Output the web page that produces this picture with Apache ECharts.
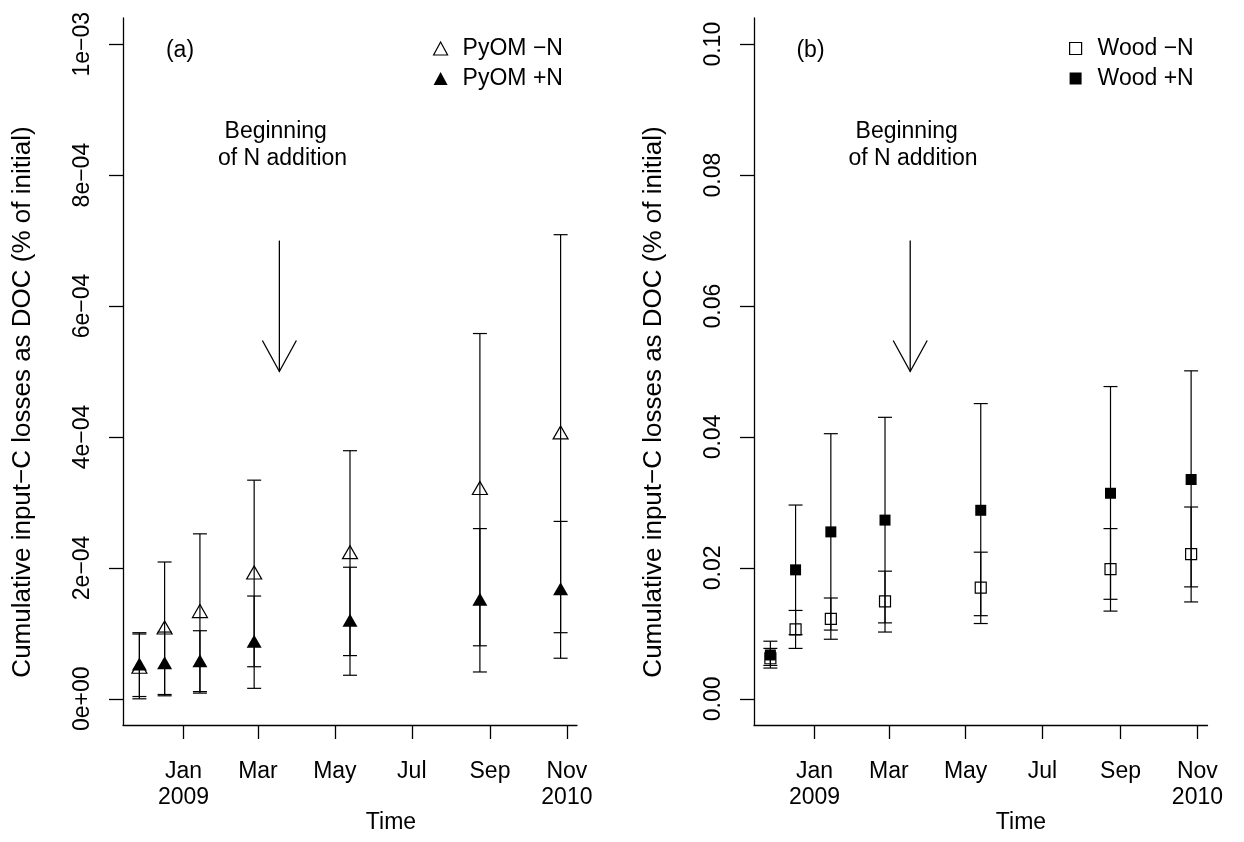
<!DOCTYPE html>
<html><head><meta charset="utf-8">
<script src="https://cdn.jsdelivr.net/npm/echarts@6/dist/echarts.min.js"></script>
<style>html,body{margin:0;padding:0;background:#fff}#c{width:1244px;height:842px}</style>
</head><body><div id="c"></div>
<script>
// ---------------- data ----------------
const sampleDates = ['2008-11-27','2008-12-17','2009-01-14','2009-02-26','2009-05-13','2009-08-24','2009-10-27'];
const tickDates   = ['2009-01-01','2009-03-01','2009-05-01','2009-07-01','2009-09-01','2009-11-01'];
const tickLabels  = ['Jan\n2009','Mar','May','Jul','Sep','Nov\n2010'];
const nAdditionDate = '2009-03-18';

// Panel (a): PyOM
const pyomMinusN_mean = [4.9e-5, 1.09e-4, 1.34e-4, 1.93e-4, 2.24e-4, 3.22e-4, 4.07e-4];
const pyomMinusN_low  = [0.0,    0.46e-5, 0.87e-5, 4.9e-5,  6.6e-5,  8.1e-5,  1.01e-4];
const pyomMinusN_high = [0.99e-4,2.09e-4, 2.52e-4, 3.34e-4, 3.79e-4, 5.58e-4, 7.09e-4];
const pyomPlusN_mean  = [5.3e-5, 5.5e-5,  5.8e-5,  8.8e-5,  1.2e-4,  1.52e-4, 1.68e-4];
const pyomPlusN_low   = [0.35e-5,0.66e-5, 1.1e-5,  1.6e-5,  3.6e-5,  4.1e-5,  6.2e-5];
const pyomPlusN_high  = [1.01e-4,1.02e-4, 1.04e-4, 1.57e-4, 2.01e-4, 2.6e-4,  2.71e-4];

// Panel (b): Wood
const woodMinusN_mean = [0.0062, 0.0106, 0.0122, 0.0149, 0.0170, 0.0198, 0.0221];
const woodMinusN_low  = [0.0051, 0.0077, 0.0091, 0.0102, 0.0115, 0.0134, 0.0148];
const woodMinusN_high = [0.0077, 0.0135, 0.0154, 0.0195, 0.0224, 0.0260, 0.0293];
const woodPlusN_mean  = [0.0067, 0.0197, 0.0255, 0.0273, 0.0288, 0.0314, 0.0335];
const woodPlusN_low   = [0.0047, 0.0098, 0.0105, 0.0116, 0.0127, 0.0152, 0.0171];
const woodPlusN_high  = [0.0088, 0.0296, 0.0405, 0.0430, 0.0451, 0.0477, 0.0501];

const yTicksA  = [0, 2e-4, 4e-4, 6e-4, 8e-4, 1e-3];
const yLabelsA = ['0e+00','2e\u221204','4e\u221204','6e\u221204','8e\u221204','1e\u221203'];
const yTicksB  = [0, 0.02, 0.04, 0.06, 0.08, 0.10];
const yLabelsB = ['0.00','0.02','0.04','0.06','0.08','0.10'];

const arrowA = [7e-4, 5e-4];     // arrow from, to (panel a)
const arrowB = [0.07, 0.05];     // arrow from, to (panel b)

const namesA = ['PyOM \u2212N', 'PyOM +N'];
const namesB = ['Wood \u2212N', 'Wood +N'];
const yTitle = 'Cumulative input\u2212C losses as DOC (% of initial)';

// ---------------- helpers ----------------
const DAY = 86400000;
const origin = Date.parse(tickDates[0]);
const toDay = d => (Date.parse(d) - origin) / DAY;
const xs = sampleDates.map(toDay);
const xTicks = tickDates.map(toDay);
const arrowX = toDay(nAdditionDate);
const FONT = 'Liberation Sans, Arial, Helvetica, sans-serif';
const FS = 23;

function zip3(mean, low, high) { return xs.map((x, i) => [x, low[i], high[i], mean[i]]); }
function pts(mean) { return xs.map((x, i) => [x, mean[i]]); }
function lab(ticks, labels) {
  return v => { const i = ticks.findIndex(t => Math.abs(t - v) <= 1e-9 + Math.abs(t) * 1e-6); return i >= 0 ? labels[i] : ''; };
}
function errBar(params, api) {
  const x = api.value(0), lo = api.value(1), hi = api.value(2);
  const a = api.coord([x, lo]), b = api.coord([x, hi]);
  const hw = 7, st = { stroke: '#000', lineWidth: 1.2 };
  return { type: 'group', children: [
    { type: 'line', shape: { x1: a[0], y1: a[1], x2: b[0], y2: b[1] }, style: st },
    { type: 'line', shape: { x1: a[0]-hw, y1: a[1], x2: a[0]+hw, y2: a[1] }, style: st },
    { type: 'line', shape: { x1: b[0]-hw, y1: b[1], x2: b[0]+hw, y2: b[1] }, style: st }
  ]};
}
function arrow(params, api) {
  const x = api.value(0);
  const a = api.coord([x, api.value(1)]), b = api.coord([x, api.value(2)]);
  const st = { stroke: '#000', lineWidth: 1.3, fill: null };
  return { type: 'group', children: [
    { type: 'line', shape: { x1: a[0], y1: a[1], x2: b[0], y2: b[1] }, style: st },
    { type: 'polyline', shape: { points: [[b[0]-17, b[1]-31], [b[0], b[1]], [b[0]+17, b[1]-31]] }, style: st }
  ]};
}
const axisLineStyle = { color: '#000', width: 1.3 };
function xAxisCfg(gi) {
  return {
    type: 'value', gridIndex: gi, min: -48, max: 312,
    splitLine: { show: false },
    axisLine: { onZero: false, lineStyle: axisLineStyle },
    axisTick: { customValues: xTicks, length: 14, lineStyle: axisLineStyle },
    axisLabel: { customValues: xTicks, formatter: lab(xTicks, tickLabels),
      color: '#000', fontSize: FS, fontFamily: FONT, lineHeight: 26, margin: 34 }
  };
}
function yAxisCfg(gi, min, max, ticks, labels) {
  return {
    type: 'value', gridIndex: gi, min: min, max: max,
    splitLine: { show: false },
    axisLine: { onZero: false, lineStyle: axisLineStyle },
    axisTick: { customValues: ticks, length: 14, lineStyle: axisLineStyle },
    axisLabel: { customValues: ticks, formatter: lab(ticks, labels), rotate: 90,
      color: '#000', fontSize: FS, fontFamily: FONT, lineHeight: 23, margin: 29 }
  };
}
const openStyle = { color: 'rgba(0,0,0,0)', borderColor: '#000', borderWidth: 1.2, opacity: 1 };
const fillStyle = { color: '#000', borderWidth: 0, opacity: 1 };

function txt(text, x, y, extra, fs) {
  return Object.assign({ type: 'text', x: x, y: y, silent: true,
    style: { text: text, fill: '#000', fontSize: fs || FS, fontFamily: FONT,
      align: 'center', verticalAlign: 'middle', textAlign: 'center', textVerticalAlign: 'middle' } }, extra || {});
}
function legendCfg(names, left, w, h, pad) {
  return { data: names, orient: 'vertical', left: left, top: 37, padding: 0, itemGap: 7,
    itemWidth: w, itemHeight: h, selectedMode: false,
    itemStyle: { borderWidth: 1.2, opacity: 1 },
    textStyle: { color: '#000', fontSize: FS, fontFamily: FONT, lineHeight: 23, padding: [0, 0, 0, pad] } };
}

const option = {
  animation: false,
  backgroundColor: '#fff',
  grid: [
    { left: 123, right: 667, top: 18, bottom: 117 },
    { left: 754, right: 36.5, top: 18, bottom: 117 }
  ],
  xAxis: [xAxisCfg(0), xAxisCfg(1)],
  yAxis: [
    yAxisCfg(0, -4e-5, 1.04e-3, yTicksA, yLabelsA),
    yAxisCfg(1, -0.004, 0.104, yTicksB, yLabelsB)
  ],
  legend: [ legendCfg(namesA, 433, 14, 13, 10), legendCfg(namesB, 1069, 12, 12, 11) ],
  graphic: [
    txt('(a)', 180, 51), txt('(b)', 810.5, 51),
    txt('Beginning', 275.7, 131.7), txt('of N addition', 282.5, 159),
    txt('Beginning', 906.7, 131.7), txt('of N addition', 913, 159),
    txt('Time', 391, 823), txt('Time', 1021, 823),
    txt(yTitle, 23, 402, { rotation: Math.PI / 2 }, 26),
    txt(yTitle, 654, 402, { rotation: Math.PI / 2 }, 26)
  ],
  series: [
    { type: 'custom', name: 'errA1', xAxisIndex: 0, yAxisIndex: 0, renderItem: errBar, data: zip3(pyomMinusN_mean, pyomMinusN_low, pyomMinusN_high), z: 2 },
    { type: 'custom', name: 'errA2', xAxisIndex: 0, yAxisIndex: 0, renderItem: errBar, data: zip3(pyomPlusN_mean, pyomPlusN_low, pyomPlusN_high), z: 2 },
    { type: 'custom', name: 'errB1', xAxisIndex: 1, yAxisIndex: 1, renderItem: errBar, data: zip3(woodMinusN_mean, woodMinusN_low, woodMinusN_high), z: 2 },
    { type: 'custom', name: 'errB2', xAxisIndex: 1, yAxisIndex: 1, renderItem: errBar, data: zip3(woodPlusN_mean, woodPlusN_low, woodPlusN_high), z: 2 },
    { type: 'scatter', name: namesA[0], xAxisIndex: 0, yAxisIndex: 0, symbol: 'triangle', symbolSize: [15, 13], itemStyle: openStyle, data: pts(pyomMinusN_mean), z: 3 },
    { type: 'scatter', name: namesA[1], xAxisIndex: 0, yAxisIndex: 0, symbol: 'triangle', symbolSize: [15, 13], itemStyle: fillStyle, data: pts(pyomPlusN_mean), z: 3 },
    { type: 'scatter', name: namesB[0], xAxisIndex: 1, yAxisIndex: 1, symbol: 'rect', symbolSize: 11, itemStyle: openStyle, data: pts(woodMinusN_mean), z: 3 },
    { type: 'scatter', name: namesB[1], xAxisIndex: 1, yAxisIndex: 1, symbol: 'rect', symbolSize: 11, itemStyle: fillStyle, data: pts(woodPlusN_mean), z: 3 },
    { type: 'custom', name: 'arrowA', xAxisIndex: 0, yAxisIndex: 0, renderItem: arrow, data: [[arrowX, arrowA[0], arrowA[1]]], z: 2 },
    { type: 'custom', name: 'arrowB', xAxisIndex: 1, yAxisIndex: 1, renderItem: arrow, data: [[arrowX, arrowB[0], arrowB[1]]], z: 2 }
  ]
};
const chart = echarts.init(document.getElementById('c'), null, { renderer: 'canvas' });
chart.setOption(option);
</script></body></html>
